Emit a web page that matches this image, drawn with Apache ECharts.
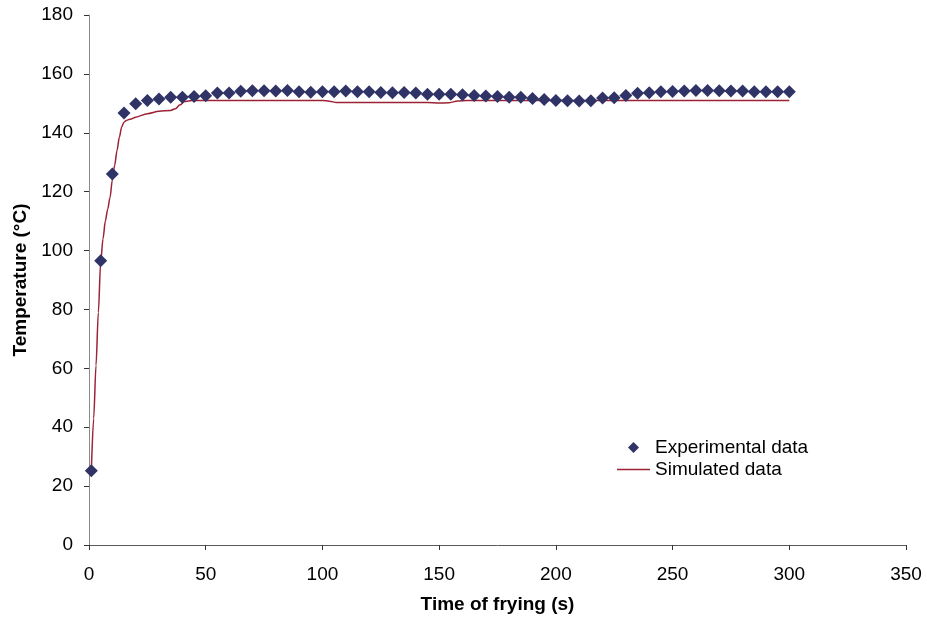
<!DOCTYPE html>
<html>
<head>
<meta charset="utf-8">
<script src="https://cdn.jsdelivr.net/npm/echarts@6/dist/echarts.min.js"></script>
<style>
html,body{margin:0;padding:0;background:#fff;}
#chart{width:927px;height:621px;}
</style>
</head>
<body>
<div id="chart"></div>
<script>
// Experimental data (time s, temperature °C)
var expTime = [1,5,10,15,20,25,30,35,40,45,50,55,60,65,70,75,80,85,90,95,100,105,110,115,120,125,130,135,140,145,150,155,160,165,170,175,180,185,190,195,200,205,210,215,220,225,230,235,240,245,250,255,260,265,270,275,280,285,290,295,300];
var expTemp = [25.2,96.5,126,146.7,149.9,151.0,151.5,152.1,152.1,152.3,152.6,153.5,153.5,154.1,154.3,154.3,154.2,154.4,153.9,153.8,153.9,153.9,154.2,153.9,153.9,153.7,153.6,153.7,153.5,153.1,153.1,153.1,152.9,152.7,152.5,152.3,152.1,152.1,151.6,151.3,151.0,150.9,150.8,150.9,151.8,151.9,152.7,153.4,153.6,153.9,154.0,154.2,154.4,154.4,154.3,154.2,154.2,153.9,153.9,153.9,153.9];
// Simulated data (time s, temperature °C)
var simTime = [1,2,3,4,5,6,7,8,9,10,11,12,13,14,15,16,18,20,25,30,35,37,39,41,44,100,103,106,110,145,150,154,158,162,300];
var simTemp = [25,43,61,79,96,104,110,114,118,124,129,134,138.5,142,143.6,144.2,144.7,145.3,146.5,147.3,147.6,148.2,149.5,150.6,151,151,150.7,150.3,150.3,150.3,150.1,150.2,150.8,151,151];
var xTicks = {min:0, max:350, interval:50};
var yTicks = {min:0, max:180, interval:20};

var expData = expTime.map(function(t,i){return [t, expTemp[i]];});
var simData = simTime.map(function(t,i){return [t, simTemp[i]];});

var font = "'Liberation Sans', Arial, sans-serif";
var legendText = {fontFamily:font, fontSize:19, color:'#000'};
var chart = echarts.init(document.getElementById('chart'), null, {renderer:'canvas'});
chart.setOption({
  animation:false,
  backgroundColor:'#ffffff',
  grid:{left:89, right:21, top:15, bottom:76, containLabel:false},
  legend:[
    {
      left:628, top:438, padding:0, itemWidth:11, itemHeight:11,
      textStyle:Object.assign({padding:[0,0,0,11]}, legendText),
      data:[{name:'Experimental data', icon:'diamond'}]
    },
    {
      left:617, top:460, padding:0, itemWidth:33, itemHeight:1.5,
      textStyle:legendText,
      data:[{name:'Simulated data', icon:'rect'}]
    }
  ],
  xAxis:{
    type:'value', min:xTicks.min, max:xTicks.max, interval:xTicks.interval,
    name:'Time of frying (s)', nameLocation:'middle', nameGap:50,
    nameTextStyle:{fontFamily:font, fontSize:19, fontWeight:'bold', color:'#000'},
    axisLine:{show:true, onZero:false, lineStyle:{color:'#5a5a5a', width:1}},
    axisTick:{show:true, length:5, lineStyle:{color:'#333'}},
    axisLabel:{fontFamily:font, fontSize:19, color:'#000', margin:20},
    splitLine:{show:false}
  },
  yAxis:{
    type:'value', min:yTicks.min, max:yTicks.max, interval:yTicks.interval,
    name:'Temperature (°C)', nameLocation:'middle', nameGap:51,
    nameTextStyle:{fontFamily:font, fontSize:19, fontWeight:'bold', color:'#000'},
    axisLine:{show:true, lineStyle:{color:'#8a8a8a', width:1}},
    axisTick:{show:true, length:5, lineStyle:{color:'#333'}},
    axisLabel:{fontFamily:font, fontSize:19, color:'#000', margin:16},
    splitLine:{show:false}
  },
  series:[
    {
      name:'Simulated data', type:'line', data:simData, showSymbol:false, symbol:'none',
      smooth:0.3, smoothMonotone:'x',
      lineStyle:{color:'#9B2335', width:1.5}, itemStyle:{color:'#9B2335'}, z:2
    },
    {
      name:'Experimental data', type:'scatter', data:expData, symbol:'diamond', symbolSize:13,
      itemStyle:{color:'#2F3366', opacity:1}, z:3
    }
  ]
});
</script>
</body>
</html>
